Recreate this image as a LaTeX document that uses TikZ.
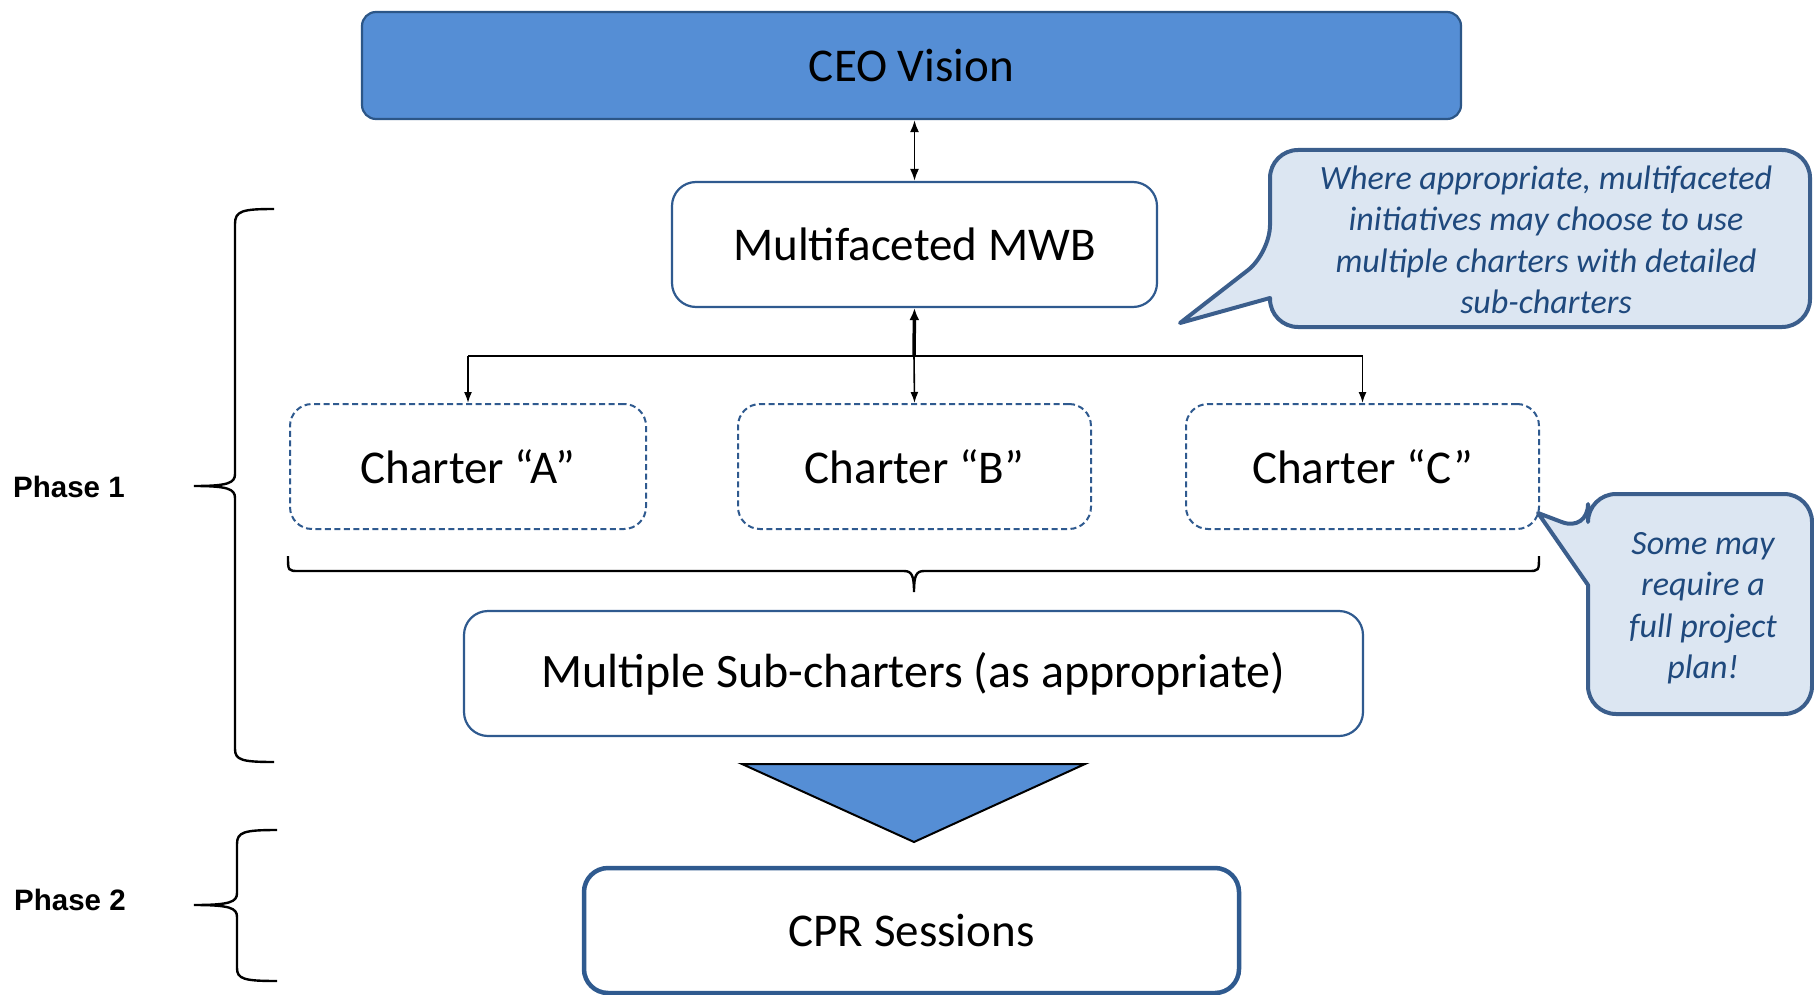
\documentclass[tikz,border=0pt]{standalone}
\usepackage{fontspec}
\setmainfont{Carlito}
\newfontfamily\phasefont{Liberation Sans}
\usetikzlibrary{arrows.meta}
\definecolor{ceofill}{HTML}{558ED5}
\definecolor{ceoline}{HTML}{2C5687}
\definecolor{boxline}{HTML}{2F5A8F}
\definecolor{notefill}{HTML}{DCE6F2}
\definecolor{noteline}{HTML}{3B5E8C}
\definecolor{notetext}{HTML}{1F497D}
\begin{document}
\begin{tikzpicture}[x=1pt,y=-1pt,
  boxtext/.style={font=\fontsize{47}{57}\selectfont, align=center, inner sep=0pt},
  solidbox/.style={boxtext, draw=boxline, line width=2.2pt, rounded corners=24pt, fill=white, minimum height=125pt},
  charterbox/.style={boxtext, draw=boxline, line width=2pt, dash pattern=on 6pt off 3.5pt, rounded corners=22pt, minimum height=125pt},
  notetextstyle/.style={font=\fontsize{34}{41.5}\selectfont\itshape, text=notetext, align=center, inner sep=0pt},
  notebody/.style={draw=noteline, line width=4pt, fill=notefill, line join=round},
  tip/.style={-{Latex[length=11pt,width=8pt]}},
  link/.style={line width=1.6pt, tip},
  brace/.style={line width=2.4pt},
  phase/.style={font=\phasefont\bfseries\fontsize{29.5}{34}\selectfont, anchor=west, inner sep=0pt}
]
\useasboundingbox (0,0) rectangle (1814,995);

% boxes
\node[boxtext, draw=ceoline, line width=2.2pt, fill=ceofill, rounded corners=14pt,
      minimum width=1099pt, minimum height=107pt] (ceo) at (911.5,65.5) {CEO Vision};
\node[solidbox, minimum width=485pt] (mwb) at (914.5,244.5) {Multifaceted MWB};
\node[charterbox, minimum width=356pt] (ca) at (468,466.5) {Charter “A”};
\node[charterbox, minimum width=353pt] (cb) at (914.5,466.5) {Charter “B”};
\node[charterbox, minimum width=353pt] (cc) at (1362.5,466.5) {Charter “C”};
\node[solidbox, minimum width=899pt, font=\fontsize{48}{58}\selectfont] (sub) at (913.5,673.5) {Multiple Sub-charters (as appropriate)};
\node[solidbox, line width=4.5pt, minimum width=655pt] (cpr) at (911.5,930.5) {CPR Sessions};

% connectors
\coordinate (hub) at (914,356);
\draw[line width=1.9pt, {Latex[length=12pt,width=9pt]}-{Latex[length=12pt,width=9pt]}] (ceo.south -| mwb.north) -- (mwb.north);
\draw[line width=1.8pt] (ca.north |- hub) -- (cc.north |- hub);
\draw[line width=3.5pt, -{Latex[length=12pt,width=10pt]}] (hub) -- (mwb.south);
\draw[link] (ca.north |- hub) -- (ca.north);
\draw[link] (hub) -- (cb.north);
\draw[link] (cc.north |- hub) -- (cc.north);

% bracket gathering the charters
\draw[brace] (288,556) .. controls (288,571) .. (299,571) -- (904,571)
  .. controls (912,571) and (914,576) .. (914,592)
  .. controls (914,576) and (916,571) .. (924,571) -- (1528,571)
  .. controls (1539,571) .. (1539,556);

% flow into phase 2
\draw[fill=ceofill, line width=2pt, line join=miter] (742,764) -- (1085,764) -- (914,842) -- cycle;

% phase braces
\draw[brace] (274,209) .. controls (242,209) and (235,211) .. (235,224) -- (235,474)
  .. controls (235,483) and (228,486) .. (194,486)
  .. controls (228,486) and (235,489) .. (235,498) -- (235,749)
  .. controls (235,760) and (242,762) .. (274,762);
\draw[brace] (277,830) .. controls (244,830) and (237,832) .. (237,844) -- (237,893)
  .. controls (237,902) and (230,905) .. (194,905)
  .. controls (230,905) and (237,908) .. (237,917) -- (237,968)
  .. controls (237,979) and (244,981) .. (277,981);
\node[phase] (p1) at (13,487) {Phase 1};
\node[phase] (p2) at (14,900) {Phase 2};

% callouts
\draw[notebody] (1270,298) [rounded corners=28pt] |- (1810,327) |- (1270,150) -- (1270,253)
  [sharp corners] -- (1180,323) -- cycle;
\node[notetextstyle] (n1) at (1546,240) {Where appropriate, multifaceted\\initiatives may choose to use\\multiple charters with detailed\\sub-charters};

\draw[notebody] (1588,585) [rounded corners=28pt] |- (1812,714) |- (1588,494) -- (1588,532)
  [sharp corners] -- (1538,513) -- cycle;
\node[notetextstyle] (n2) at (1703,608) {Some may\\require a\\full project\\plan!};
\end{tikzpicture}
\end{document}
